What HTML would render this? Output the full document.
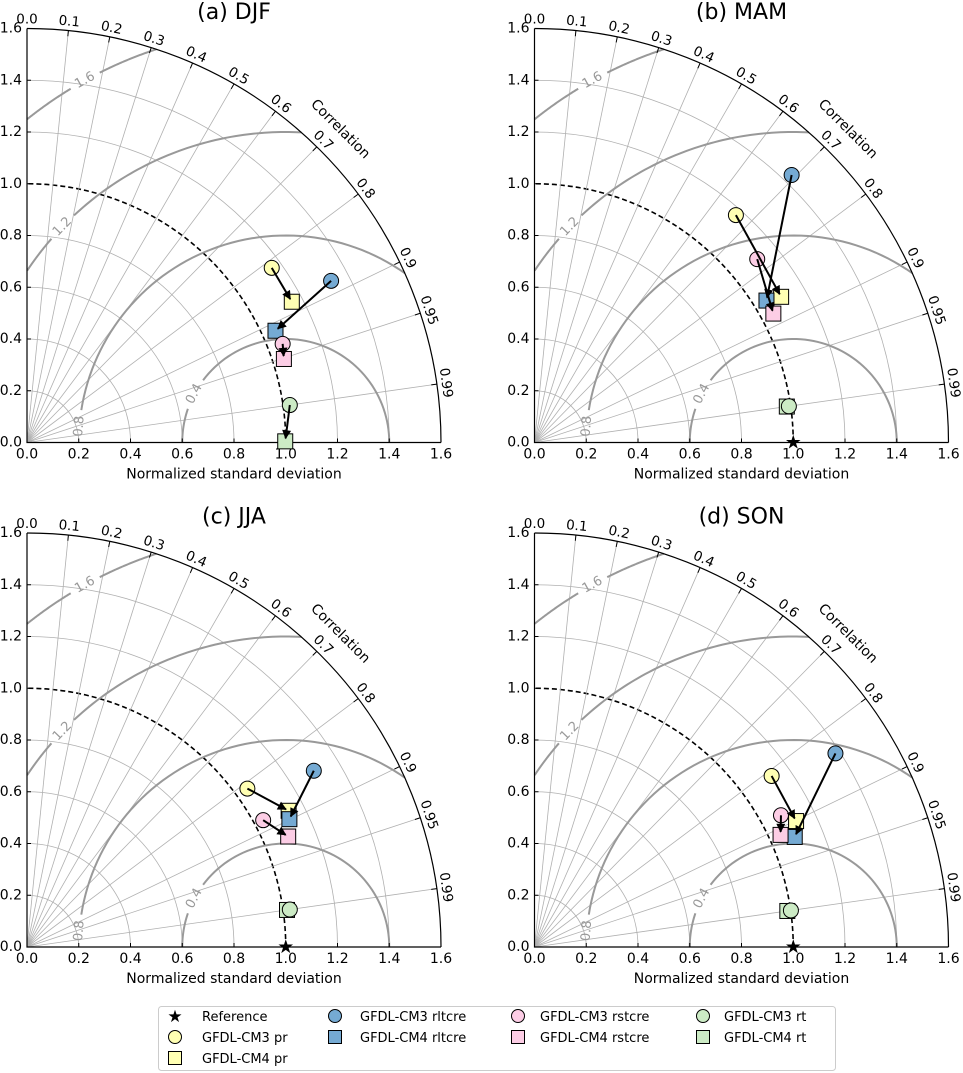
<!DOCTYPE html>
<html><head><meta charset="utf-8"><style>
html,body{margin:0;padding:0;background:#fff;}
svg{display:block;font-family:"DejaVu Sans","Liberation Sans",sans-serif;}
</style></head><body>
<svg id="fig" width="963" height="1073" viewBox="0 0 963 1073" xmlns="http://www.w3.org/2000/svg">
<defs>
<marker id="ah" viewBox="0 0 10 10" refX="9" refY="5" markerWidth="5" markerHeight="4.5" orient="auto" markerUnits="strokeWidth">
<path d="M0,0 L10,5 L0,10 z" fill="#000"/>
</marker>
</defs>
<g id="legend">
<rect x="158.5" y="1006.5" width="677" height="64" rx="3" fill="#fff" stroke="#ccc"/>
<g><text x="175" y="1022" font-size="17" text-anchor="middle">★</text><text x="202" y="1021" font-size="13">Reference</text></g>
<g><circle cx="175" cy="1037" r="6.5" fill="#ffffb3" stroke="#000"/><text x="202" y="1042" font-size="13">GFDL-CM3 pr</text></g>
<g><rect x="168.5" y="1051.5" width="13" height="13" fill="#ffffb3" stroke="#000"/><text x="202" y="1063" font-size="13">GFDL-CM4 pr</text></g>
<g><circle cx="335" cy="1016" r="6.5" fill="#75aad3" stroke="#000"/><text x="360" y="1021" font-size="13">GFDL-CM3 rltcre</text></g>
<g><rect x="328.5" y="1030.5" width="13" height="13" fill="#75aad3" stroke="#000"/><text x="360" y="1042" font-size="13">GFDL-CM4 rltcre</text></g>
<g><circle cx="518" cy="1016" r="6.5" fill="#fccde5" stroke="#000"/><text x="540" y="1021" font-size="13">GFDL-CM3 rstcre</text></g>
<g><rect x="511.5" y="1030.5" width="13" height="13" fill="#fccde5" stroke="#000"/><text x="540" y="1042" font-size="13">GFDL-CM4 rstcre</text></g>
<g><circle cx="703" cy="1016" r="6.5" fill="#ccebc5" stroke="#000"/><text x="724" y="1021" font-size="13">GFDL-CM3 rt</text></g>
<g><rect x="696.5" y="1030.5" width="13" height="13" fill="#ccebc5" stroke="#000"/><text x="724" y="1042" font-size="13">GFDL-CM4 rt</text></g>
</g>
</svg>
<script>
// order within each array: [pr, rltcre, rstcre, rt]
const variables = ['pr', 'rltcre', 'rstcre', 'rt'];
const colors = ['#ffffb3', '#75aad3', '#fccde5', '#ccebc5'];
const titles = ['(a) DJF', '(b) MAM', '(c) JJA', '(d) SON'];
const stdCM3_DJF = [1.162, 1.331, 1.059, 1.026];
const corCM3_DJF = [0.814, 0.883, 0.933, 0.990];
const stdCM4_DJF = [1.159, 1.053, 1.044, 0.998];
const corCM4_DJF = [0.883, 0.912, 0.951, 0.99999];
const stdCM3_MAM = [1.174, 1.434, 1.115, 0.993];
const corCM3_MAM = [0.663, 0.693, 0.772, 0.990];
const stdCM4_MAM = [1.107, 1.051, 1.049, 0.985];
const corCM4_MAM = [0.861, 0.853, 0.880, 0.990];
const stdCM3_JJA = [1.049, 1.301, 1.036, 1.026];
const corCM3_JJA = [0.812, 0.852, 0.881, 0.990];
const stdCM4_JJA = [1.140, 1.128, 1.096, 1.015];
const corCM4_JJA = [0.887, 0.899, 0.921, 0.990];
const stdCM3_SON = [1.130, 1.383, 1.080, 1.001];
const corCM3_SON = [0.811, 0.841, 0.882, 0.990];
const stdCM4_SON = [1.122, 1.092, 1.045, 0.987];
const corCM4_SON = [0.901, 0.921, 0.910, 0.990];
const refStd = 1.0;
const corrTicks = [0.0, 0.1, 0.2, 0.3, 0.4, 0.5, 0.6, 0.7, 0.8, 0.9, 0.95, 0.99];
const stdTicks = [0.0, 0.2, 0.4, 0.6, 0.8, 1.0, 1.2, 1.4, 1.6];
const rmsLevels = [0.4, 0.8, 1.2, 1.6];

const panels = [
  {ox: 27, oy: 442.5, s3: stdCM3_DJF, c3: corCM3_DJF, s4: stdCM4_DJF, c4: corCM4_DJF},
  {ox: 534.5, oy: 442.5, s3: stdCM3_MAM, c3: corCM3_MAM, s4: stdCM4_MAM, c4: corCM4_MAM},
  {ox: 27, oy: 947, s3: stdCM3_JJA, c3: corCM3_JJA, s4: stdCM4_JJA, c4: corCM4_JJA},
  {ox: 534.5, oy: 947, s3: stdCM3_SON, c3: corCM3_SON, s4: stdCM4_SON, c4: corCM4_SON}
];
const S = 258.75, RMAX = 1.6;
const NS = 'http://www.w3.org/2000/svg';
const fig = document.getElementById('fig');
const legend = document.getElementById('legend');

function mk(parent, tag, attrs, txt) {
  const e = document.createElementNS(NS, tag);
  for (const k in attrs) e.setAttribute(k, attrs[k]);
  if (txt !== undefined) e.textContent = txt;
  parent.appendChild(e);
  return e;
}

panels.forEach((P, pi) => {
  const X = (x) => P.ox + x * S;
  const Y = (y) => P.oy - y * S;
  const polar = (r, c) => [X(r * c), Y(r * Math.sqrt(Math.max(0, 1 - c * c)))];
  const g = mk(fig, 'g', {});
  
  

  stdTicks.slice(1, 8).forEach(r => {
    const a = mk(g, 'path', {d: `M${X(r)},${Y(0)} A${r*S},${r*S} 0 0 0 ${X(0)},${Y(r)}`, fill: 'none',
      stroke: r === refStd ? '#000' : '#b0b0b0', 'stroke-width': r === refStd ? 1.6 : 0.8,
      'stroke-dasharray': r === refStd ? '5,3' : 'none'});
    
    
  });
  corrTicks.slice(1).forEach(c => {
    const [x2, y2] = polar(RMAX, c);
    const l = mk(g, 'line', {x1: X(0), y1: Y(0), x2, y2, stroke: '#b0b0b0', 'stroke-width': 0.8});
    
    
  });
  // [startPhi, endPhi, labelPhi, halfGapDeg]
  const rmsRanges = {0.4: [0, 180, 152, 9], 0.8: [54.9, 180, 175.5, 4.5], 1.2: [87.1, 146.4, 136, 3], 1.6: [108.2, 128.7, 119, 2.3]};
  rmsLevels.forEach(r => {
    const [a0, a1, lab, gap] = rmsRanges[r];
    const segs = [[a0, lab - gap], [lab + gap, a1]];
    segs.forEach(([s, e]) => {
      if (e <= s) return;
      let d = '';
      for (let k = 0; k <= 60; k++) {
        const ph = (s + (e - s) * k / 60) * Math.PI / 180;
        d += (k ? 'L' : 'M') + X(refStd + r * Math.cos(ph)).toFixed(2) + ',' + Y(r * Math.sin(ph)).toFixed(2);
      }
      const p = mk(g, 'path', {d, fill: 'none', stroke: '#999', 'stroke-width': 2});
      
      
    });
    const ph = lab * Math.PI / 180;
    const lx = X(refStd + r * Math.cos(ph)), ly = Y(r * Math.sin(ph));
    const t = mk(g, 'text', {x: lx, y: ly, 'font-size': 13, fill: '#999', 'text-anchor': 'middle', 'dominant-baseline': 'central',
      transform: `rotate(${-(lab - 90)} ${lx} ${ly})`}, r.toFixed(1));
    
    
  });
  const oa = mk(g, 'path', {d: `M${X(RMAX)},${Y(0)} A${RMAX*S},${RMAX*S} 0 0 0 ${X(0)},${Y(RMAX)}`, fill: 'none', stroke: '#000', 'stroke-width': 1.2});
  
  
  const ax = mk(g, 'path', {d: `M${X(0)},${Y(RMAX)} L${X(0)},${Y(0)} L${X(RMAX)},${Y(0)}`, fill: 'none', stroke: '#000', 'stroke-width': 1.2});
  
  
  corrTicks.forEach(c => {
    const th = Math.acos(c);
    const [x1, y1] = polar(RMAX, c);
    const x2 = X((RMAX - 0.022) * Math.cos(th)), y2 = Y((RMAX - 0.022) * Math.sin(th));
    const tk = mk(g, 'line', {x1, y1, x2, y2, stroke: '#000', 'stroke-width': 1});
    
    
    const R = 423;
    const lx = P.ox + R * Math.cos(th), ly = P.oy - R * Math.sin(th);
    const t = mk(g, 'text', {x: lx, y: ly, 'font-size': 13.5, 'text-anchor': 'middle', 'dominant-baseline': 'central',
      transform: `rotate(${90 - th * 180 / Math.PI} ${lx} ${ly})`}, String(c === 0 ? '0.0' : c));
    
    
  });
  const cx0 = P.ox + 443 * Math.cos(Math.PI / 4), cy0 = P.oy - 443 * Math.sin(Math.PI / 4);
  const cl = mk(g, 'text', {x: cx0, y: cy0, 'font-size': 14, 'text-anchor': 'middle', 'dominant-baseline': 'central',
    transform: `rotate(45 ${cx0} ${cy0})`}, 'Correlation');
  
  
  stdTicks.forEach(v => {
    const a = mk(g, 'line', {x1: X(v), y1: Y(0), x2: X(v), y2: Y(0) - 4, stroke: '#000'});
    
    
    const b = mk(g, 'line', {x1: X(0), y1: Y(v), x2: X(0) + 4, y2: Y(v), stroke: '#000'});
    
    
    const tx = mk(g, 'text', {x: X(v), y: Y(0) + 12, 'font-size': 14, 'text-anchor': 'middle', 'dominant-baseline': 'central'}, v.toFixed(1));
    
    
    const ty = mk(g, 'text', {x: X(0) - 5, y: Y(v), 'font-size': 14, 'text-anchor': 'end', 'dominant-baseline': 'central'}, v.toFixed(1));
    
    
  });
  const xl = mk(g, 'text', {x: X(0.8), y: Y(0) + 32, 'font-size': 14, 'text-anchor': 'middle', 'dominant-baseline': 'central'}, 'Normalized standard deviation');
  
  
  const ti = mk(g, 'text', {x: X(0.8), y: P.oy - 430, 'font-size': 22, 'text-anchor': 'middle', 'dominant-baseline': 'central'}, titles[pi]);
  
  
  const st = mk(g, 'text', {x: X(refStd), y: Y(0) + 6, 'font-size': 19, 'text-anchor': 'middle'}, '★');
  
  
  const pts3 = [], pts4 = [];
  variables.forEach((v, i) => {
    const [cx, cy] = polar(P.s4[i], P.c4[i]);
    pts4.push([cx, cy]);
    const r = mk(g, 'rect', {x: cx - 7.5, y: cy - 7.5, width: 15, height: 15, fill: colors[i], stroke: '#000', 'stroke-width': 1});
    
    
  });
  variables.forEach((v, i) => {
    const [cx, cy] = polar(P.s3[i], P.c3[i]);
    pts3.push([cx, cy]);
    const c = mk(g, 'circle', {cx, cy, r: 7.5, fill: colors[i], stroke: '#000', 'stroke-width': 1});
    
    
  });
  variables.forEach((v, i) => {
    const [x1, y1] = pts3[i], [x2, y2] = pts4[i];
    const dx = x2 - x1, dy = y2 - y1, L = Math.hypot(dx, dy);
    if (L < 4) return;
    const e = Math.max(0, L - 3);
    const ar = mk(g, 'line', {x1, y1, x2: x1 + dx * e / L, y2: y1 + dy * e / L, stroke: '#000', 'stroke-width': 2, 'marker-end': 'url(#ah)'});
    
    
  });
});
fig.appendChild(legend);
</script>
</body></html>
